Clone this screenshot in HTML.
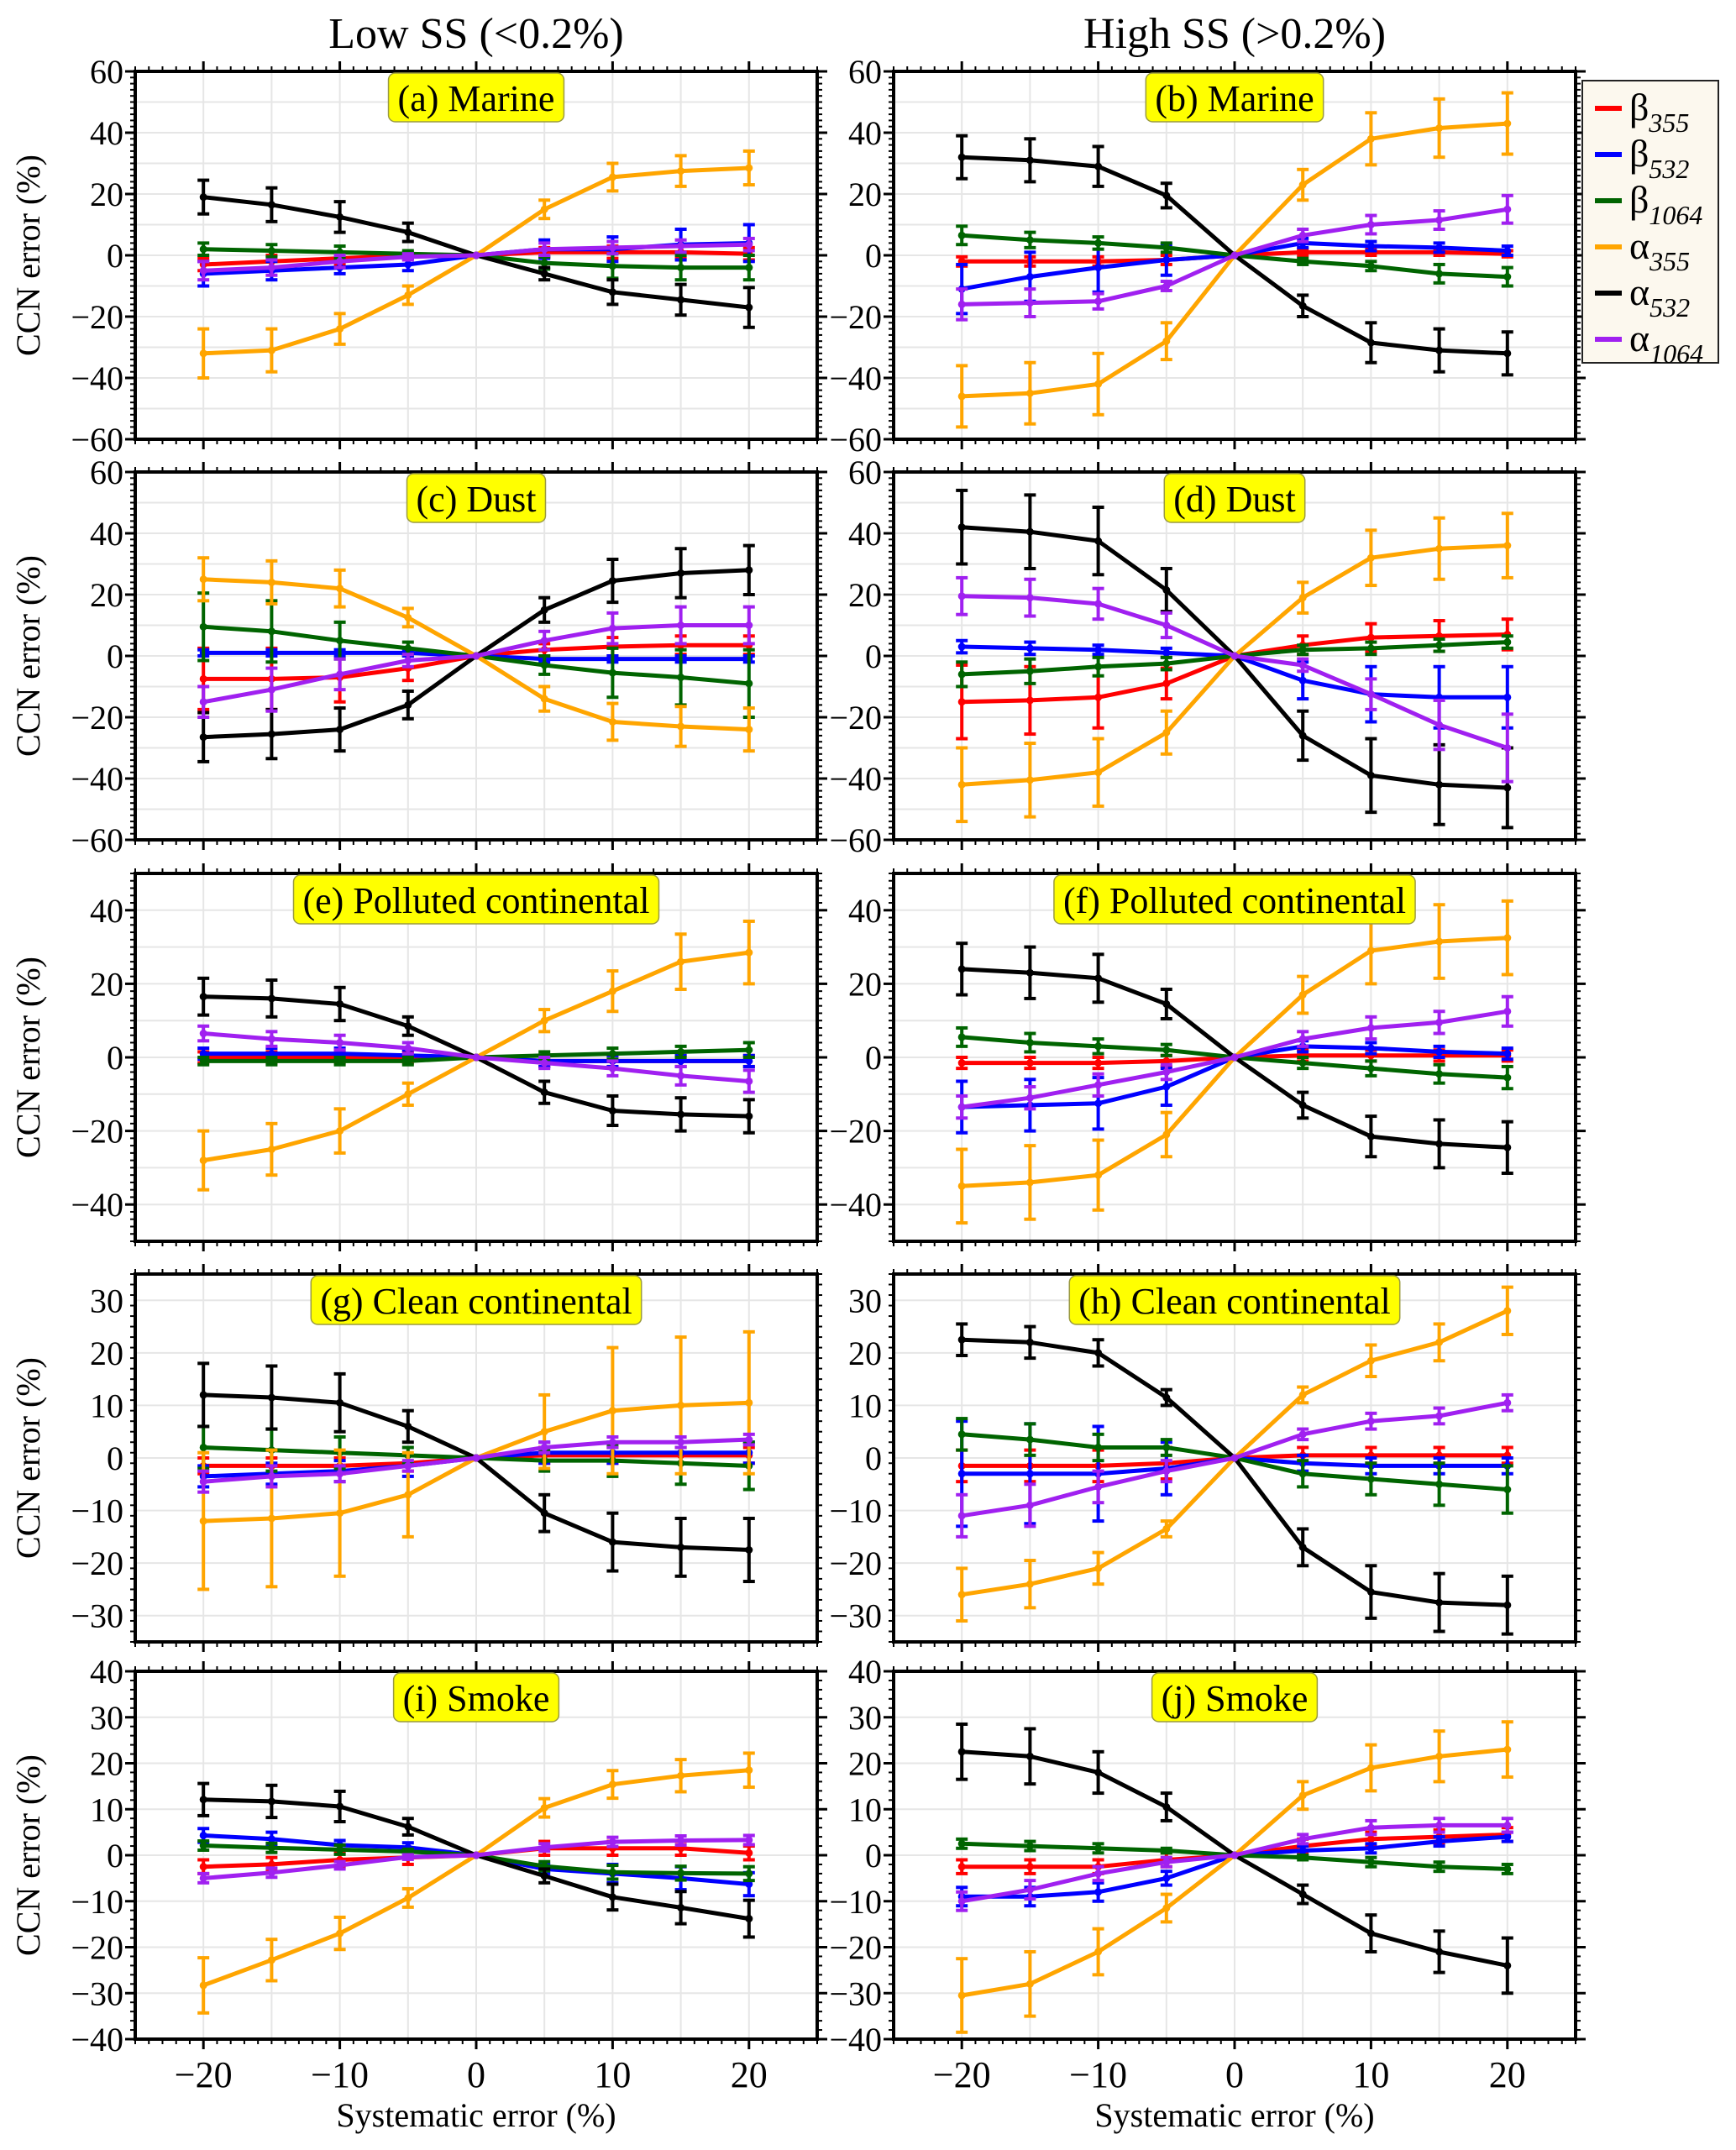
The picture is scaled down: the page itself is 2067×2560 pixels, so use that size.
<!DOCTYPE html>
<html><head><meta charset="utf-8"><style>
html,body{margin:0;padding:0;background:#fff;}
svg{display:block;font-family:"Liberation Serif","DejaVu Serif",serif;}
</style></head><body>
<svg id="fig" width="2067" height="2560" viewBox="0 0 2067 2560" xmlns="http://www.w3.org/2000/svg">
<rect width="2067" height="2560" fill="#fff"/>
<text x="567" y="57" font-size="52" text-anchor="middle">Low SS (&lt;0.2%)</text>
<text x="1470" y="57" font-size="52" text-anchor="middle">High SS (&gt;0.2%)</text>
<g id="panels"></g>
<g id="legend">
<rect x="1884" y="96" width="162" height="336" fill="#fcf8ee" stroke="#222" stroke-width="2"/>
</g>
</svg>
<script>
const xs = [-20,-15,-10,-5,0,5,10,15,20];
const seriesNames = ['beta355','beta532','beta1064','alpha355','alpha532','alpha1064'];
const seriesColors = ['#ff0000','#0000ff','#006400','#ffa500','#000000','#a020f0'];
const panelTitles = ['(a) Marine','(b) Marine','(c) Dust','(d) Dust','(e) Polluted continental','(f) Polluted continental','(g) Clean continental','(h) Clean continental','(i) Smoke','(j) Smoke'];

// values per panel: [beta355, beta532, beta1064, alpha355, alpha532, alpha1064]
const valsA = [[-3,-2,-1,0,0,1,1,1,0.5],[-6,-5,-4,-3,0,2,2,3.5,4],[2,1.5,1,0.5,0,-2.5,-3.5,-4,-4],[-32,-31,-24,-13,0,15,25.5,27.5,28.5],[19,16.5,12.5,7.5,0,-6,-12,-14.5,-17],[-5,-4,-2,-0.5,0,2,2.5,3,3.5]];
const errsA = [[2,2,2,1,0,1.5,2,2,2],[4,3,2,2,0,3,4,5,6],[2,2,2,1,0,2,4,4,4],[8,7,5,3,0,3,4.5,5,5.5],[5.5,5.5,5,3,0,2,4,5,6.5],[3,2.5,2,1,0,2,2,2,2]];
const valsB = [[-2,-2,-2,-1.5,0,1,1,1,0.5],[-11,-7,-4,-1.5,0,4,3,2.5,1.5],[6.5,5,4,2.5,0,-2,-3.5,-6,-7],[-46,-45,-42,-28,0,23,38,41.5,43],[32,31,29,19.5,0,-16.5,-28.5,-31,-32],[-16,-15.5,-15,-10,0,6.5,10,11.5,15]];
const errsB = [[1.5,1.5,1.5,1.5,0,1,1,1,1],[8,8,8,5,0,1.5,1.5,1.5,1.5],[3,2.5,2,1.5,0,1,1.5,3,3],[10,10,10,6,0,5,8.5,9.5,10],[7,7,6.5,4,0,3.5,6.5,7,7],[5,4.5,2.5,1.5,0,2,3,3,4.5]];
const valsC = [[-7.5,-7.5,-7,-4,0,2,3,3.5,3.5],[1,1,1,1,0,-1,-1,-1,-1],[9.5,8,5,2.5,0,-3,-5.5,-7,-9],[25,24,22,12.5,0,-14,-21.5,-23,-24],[-26.5,-25.5,-24,-16,0,15,24.5,27,28],[-15,-11,-6,-1.5,0,5,9,10,10]];
const errsC = [[10,10,8,4,0,2,3,3,3],[1,1,1,1,0,1,1,1,1],[11,10,6,2,0,3,8,9,11],[7,7,6,3,0,4,6,6.5,7],[8,8,7,4.5,0,4,7,8,8],[5,7,5,2,0,3,5,6,6]];
const valsD = [[-15,-14.5,-13.5,-9,0,3.5,6,6.5,7],[3,2.5,2,1,0,-8,-12.5,-13.5,-13.5],[-6,-5,-3.5,-2.5,0,2,2.5,3.5,4.5],[-42,-40.5,-38,-25,0,19,32,35,36],[42,40.5,37.5,21.5,0,-26,-39,-42,-43],[19.5,19,17,10,0,-3,-12.5,-22.5,-30]];
const errsD = [[12,11,10,5,0,3,4.5,5,5],[2,2,1.5,1.5,0,6,9,10,10],[4,4,3,2,0,1.5,2,2,2],[12,12,11,7,0,5,9,10,10.5],[12,12,11,7,0,8,12,13,13],[6,6,5,4,0,2,5,8,11]];
const valsE = [[0,0,0,0,0,-1,-1,-1,-1],[1,1,1,0.5,0,-1,-1,-1,-1],[-1,-1,-1,-1,0,0.5,1,1.5,2],[-28,-25,-20,-10,0,10,18,26,28.5],[16.5,16,14.5,8.5,0,-9.5,-14.5,-15.5,-16],[6.5,5,4,2.5,0,-1.5,-3,-5,-6.5]];
const errsE = [[1.5,1.5,1.5,1.5,0,1.5,1.5,1.5,1.5],[1.5,1.5,1.5,1.5,0,1.5,1.5,1.5,1.5],[1,1,1,1,0,1,1.5,1.5,2],[8,7,6,3,0,3,5.5,7.5,8.5],[5,5,4.5,2.5,0,3,4,4.5,4.5],[2,2,2,1.5,0,1.5,2,2.5,3]];
const valsF = [[-1.5,-1.5,-1.5,-1,0,0.5,0.5,0.5,0.5],[-13.5,-13,-12.5,-8,0,3,2.5,1.5,1],[5.5,4,3,2,0,-1.5,-3,-4.5,-5.5],[-35,-34,-32,-21,0,17,29,31.5,32.5],[24,23,21.5,14.5,0,-13,-21.5,-23.5,-24.5],[-13.5,-11,-7.5,-4,0,5,8,9.5,12.5]];
const errsF = [[1.5,1.5,1.5,1.5,0,1.5,1.5,1.5,1.5],[7,7,7,5,0,1.5,1.5,1.5,1.5],[2.5,2.5,2,1.5,0,1.5,2,2.5,3],[10,10,9.5,6,0,5,9,10,10],[7,7,6.5,4,0,3.5,5.5,6.5,7],[3,3,3,2,0,2,3,3,4]];
const valsG = [[-1.5,-1.5,-1.5,-1,0,0.5,0.5,0.5,0.5],[-3.5,-3,-2.5,-1.5,0,1,1,1,1],[2,1.5,1,0.5,0,-0.5,-0.5,-1,-1.5],[-12,-11.5,-10.5,-7,0,5,9,10,10.5],[12,11.5,10.5,6,0,-10.5,-16,-17,-17.5],[-4.5,-3.5,-3,-1.5,0,2,3,3,3.5]];
const errsG = [[1.5,1.5,1.5,1.5,0,1.5,1.5,1.5,1.5],[2,2,2,2,0,2,2,2,2],[4,4,3,1.5,0,2,3,4,4.5],[13,13,12,8,0,7,12,13,13.5],[6,6,5.5,3,0,3.5,5.5,5.5,6],[2,2,1.5,1,0,1,1,1,1]];
const valsH = [[-1.5,-1.5,-1.5,-1,0,0.5,0.5,0.5,0.5],[-3,-3,-3,-2,0,-1,-1.5,-1.5,-1.5],[4.5,3.5,2,2,0,-3,-4,-5,-6],[-26,-24,-21,-13.5,0,12,18.5,22,28],[22.5,22,20,11.5,0,-17,-25.5,-27.5,-28],[-11,-9,-5.5,-2.5,0,4.5,7,8,10.5]];
const errsH = [[3,3,3,3,0,1.5,1.5,1.5,1.5],[10,9.5,9,5,0,1.5,1.5,1.5,1.5],[3,3,2.5,1.5,0,2.5,3,4,4.5],[5,4.5,3,1.5,0,1.5,3,3.5,4.5],[3,3,2.5,1.5,0,3.5,5,5.5,5.5],[4,4,3,2,0,1,1.5,1.5,1.5]];
const valsI = [[-2.5,-2,-1,-0.5,0,1.5,1.5,1.5,0.5],[4.3,3.5,2.2,1.7,0,-3,-4,-5,-6.3],[2.1,1.6,1.2,0.8,0,-2.4,-3.7,-3.9,-4],[-28.3,-22.8,-17,-9.3,0,10.3,15.4,17.3,18.5],[12.1,11.7,10.6,6.2,0,-4.5,-9.1,-11.4,-13.8],[-5,-3.8,-2.2,-0.4,0,1.7,2.9,3.2,3.3]];
const errsI = [[1.5,1.5,1.5,1.5,0,1.5,1.5,1.5,1.5],[1.5,1.5,1,1,0,1,2,2.5,2.5],[1,1,1,0.5,0,1,1.5,1.5,1.5],[6,4.5,3.5,2,0,2,3,3.5,3.7],[3.5,3.5,3.3,1.8,0,1.5,2.8,3.5,4],[1,1,0.8,0.5,0,0.8,1,1,1]];
const valsJ = [[-2.5,-2.5,-2.5,-1,0,2,3.5,4,4.5],[-9,-9,-8,-5,0,1,1.5,3,4],[2.5,2,1.5,1,0,-0.5,-1.5,-2.5,-3],[-30.5,-28,-21,-11.5,0,13,19,21.5,23],[22.5,21.5,18,10.5,0,-8.5,-17,-21,-24],[-10,-7.5,-4,-1.5,0,3.5,6,6.5,6.5]];
const errsJ = [[1.5,1.5,1.5,1.5,0,1.5,1.5,1.5,1.5],[2,2,2,1.5,0,1,1,1,1],[1,1,1,0.5,0,0.5,1,1,1],[8,7,5,3,0,3,5,5.5,6],[6,6,4.5,3,0,2,4,4.5,6],[2,2,1.5,1,0,1,1.5,1.5,1.5]];
const panelVals = [valsA,valsB,valsC,valsD,valsE,valsF,valsG,valsH,valsI,valsJ];
const panelErrs = [errsA,errsB,errsC,errsD,errsE,errsF,errsG,errsH,errsI,errsJ];
const rowYMin = [-60,-60,-50,-35,-40];
const rowYMax = [60,60,50,35,40];
const rowYTicks = [[-60,-40,-20,0,20,40,60],[-60,-40,-20,0,20,40,60],[-40,-20,0,20,40],[-30,-20,-10,0,10,20,30],[-40,-30,-20,-10,0,10,20,30,40]];
const xTicks = [-20,-10,0,10,20];

const NS='http://www.w3.org/2000/svg';
const root=document.getElementById('panels');
function mk(tag,attrs,parent){const e=document.createElementNS(NS,tag);for(const k in attrs)e.setAttribute(k,attrs[k]);(parent||root).appendChild(e);return e;}
const colX=[161,1064], PW=812, rowT=[85,562,1040,1517,1990], PH=438;
const XMIN=-25,XMAX=25;

for(let p=0;p<10;p++){
  const r=Math.floor(p/2), c=p%2;
  const L=colX[c], T=rowT[r];
  const ymin=rowYMin[r], ymax=rowYMax[r];
  const xS=v=>L+(v-XMIN)/(XMAX-XMIN)*PW;
  const yS=v=>T+(ymax-v)/(ymax-ymin)*PH;
  const g=mk('g',{});
  
  
  const grid=mk('g',{stroke:'#e6e6e6','stroke-width':2},g);
  
  
  for(let v=-20;v<=20;v+=5) mk('line',{x1:xS(v),x2:xS(v),y1:T,y2:T+PH},grid);
  const ystep=(rowYTicks[r][1]-rowYTicks[r][0]);
  const gstep=r<3?ystep/2:ystep;
  for(let v=Math.ceil(ymin/gstep)*gstep;v<=ymax;v+=gstep) mk('line',{x1:L,x2:L+PW,y1:yS(v),y2:yS(v)},grid);
  const tk=mk('g',{stroke:'#000'},g);
  
  
  for(let v=XMIN;v<=XMAX;v++){
    const maj=xTicks.includes(v), len=maj?12:6;
    mk('line',{x1:xS(v),x2:xS(v),y1:T+PH,y2:T+PH+len,'stroke-width':maj?3:2},tk);
    mk('line',{x1:xS(v),x2:xS(v),y1:T,y2:T-len,'stroke-width':maj?3:2},tk);
  }
  const mstep=r<3?ystep/10:ystep/5;
  for(let v=ymin;v<=ymax+1e-6;v+=mstep){
    const maj=rowYTicks[r].some(t=>Math.abs(t-v)<1e-6), len=maj?12:6;
    mk('line',{x1:L,x2:L-len,y1:yS(v),y2:yS(v),'stroke-width':maj?3:2},tk);
    mk('line',{x1:L+PW,x2:L+PW+len,y1:yS(v),y2:yS(v),'stroke-width':maj?3:2},tk);
  }
  rowYTicks[r].forEach(v=>{
    const t=mk('text',{x:L-14,y:yS(v)+14,'font-size':40,'text-anchor':'end'},g);
    
    
    t.textContent=(v<0?'\u2212':'')+Math.abs(v);
  });
  if(c===0){
    const t=mk('text',{x:0,y:0,'font-size':40,'text-anchor':'middle',transform:`translate(47,${T+PH/2}) rotate(-90)`},g);
    
    
    t.textContent='CCN error (%)';
  }
  if(r===4){
    xTicks.forEach(v=>{
      const t=mk('text',{x:xS(v),y:T+PH+57,'font-size':44,'text-anchor':'middle'},g);
      
      
      t.textContent=(v<0?'\u2212':'')+Math.abs(v);
    });
    const t=mk('text',{x:L+PW/2,y:T+PH+104,'font-size':40,'text-anchor':'middle'},g);
    
    
    t.textContent='Systematic error (%)';
  }
  const vals=panelVals[p], errs=panelErrs[p];
  for(let s=0;s<6;s++){
    const sg=mk('g',{},g);
    
    
    const col=seriesColors[s];
    for(let i=0;i<xs.length;i++){
      const e=errs[s][i]; if(!e) continue;
      const x=xS(xs[i]), y1=yS(vals[s][i]+e), y2=yS(vals[s][i]-e);
      mk('line',{x1:x,x2:x,y1:y1,y2:y2,stroke:col,'stroke-width':4},sg);
      mk('line',{x1:x-7,x2:x+7,y1:y1,y2:y1,stroke:col,'stroke-width':4},sg);
      mk('line',{x1:x-7,x2:x+7,y1:y2,y2:y2,stroke:col,'stroke-width':4},sg);
    }
    const pts=xs.map((x,i)=>xS(x).toFixed(1)+','+yS(vals[s][i]).toFixed(1)).join(' ');
    const pl=mk('polyline',{points:pts,fill:'none',stroke:col,'stroke-width':5,'stroke-linejoin':'round'},sg);
    
    
    xs.forEach((x,i)=>{mk('circle',{cx:xS(x),cy:yS(vals[s][i]),r:4.5,fill:col},sg);});
  }
  const fr=mk('rect',{x:L,y:T,width:PW,height:PH,fill:'none',stroke:'#000','stroke-width':4},g);
  
  
  const title=panelTitles[p];
  const tb=mk('g',{},g);
  
  
  const rect=mk('rect',{y:T+2,height:58,rx:8,fill:'#ffff00',stroke:'#9a9a40','stroke-width':1.5},tb);
  const tt=mk('text',{x:L+PW/2,y:T+47,'font-size':44,'text-anchor':'middle'},tb);
  tt.textContent=title;
  let tw=title.length*19;
  try{tw=tt.getComputedTextLength()||tw;}catch(e){}
  const bw=tw+22;
  rect.setAttribute('x',L+PW/2-bw/2);
  rect.setAttribute('width',bw);
}
const lg=document.getElementById('legend');
const legendSym=['\u03B2','\u03B2','\u03B2','\u03B1','\u03B1','\u03B1'];
const legendSub=['355','532','1064','355','532','1064'];
for(let s=0;s<6;s++){
  const y=129+55*s;
  const eg=mk('g',{},lg);
  
  
  mk('line',{x1:1899,x2:1931,y1:y,y2:y,stroke:seriesColors[s],'stroke-width':6},eg);
  const t=mk('text',{x:1940,y:y+14,'font-size':46},eg);
  t.textContent=legendSym[s];
  const ts=mk('tspan',{'font-size':32,'font-style':'italic',dy:14},t);
  ts.textContent=legendSub[s];
}
</script>
</body></html>
